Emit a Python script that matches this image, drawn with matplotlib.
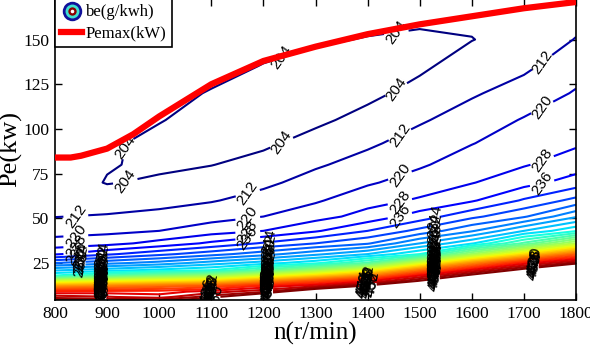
import numpy as np
import matplotlib
matplotlib.use("Agg")
import matplotlib.pyplot as plt
from matplotlib.lines import Line2D
from matplotlib.legend_handler import HandlerTuple

plt.rcParams['font.family'] = ['Liberation Serif', 'DejaVu Serif']

# engine speed columns (r/min) and power rows (kW) of the be map
speed = [800, 900, 1000, 1100, 1200, 1300, 1400, 1500, 1600, 1700, 1800]
power = [4, 6, 9, 12, 15, 18, 21, 25, 30, 36, 43, 51, 60, 70, 80, 92, 105, 120, 135, 150, 161, 172]

# be (g/kWh), one list per speed, rows follow `power`
be_800 = [462, 448, 431, 396, 355, 300, 283, 260, 235, 223.3, 216.9, 211.8, 209.7, 208.2, 207.7, 207.8, 208, 208.5, 209, 209.5, 210, 210.5]
be_900 = [460, 445, 432, 402.4, 364, 316, 288.6, 265.7, 242.5, 225.3, 218, 212.7, 208, 203.6, 204.5, 205.5, 206.5, 207, 207.5, 208, 208.5, 209]
be_1000 = [458, 440, 432, 408.8, 370.4, 328.4, 294.3, 271.4, 249.7, 230.7, 220, 214.2, 209.4, 205.1, 202.7, 201.4, 204.5, 206, 207, 207.5, 208, 208.5]
be_1100 = [470, 457, 439.6, 415.2, 376.8, 338.4, 300, 280, 256.8, 237.6, 224.3, 217, 211.4, 207.5, 203.8, 201.2, 200.5, 203.6, 206, 207, 207.5, 208]
be_1200 = [510, 481, 450.4, 431.2, 396, 357.6, 319.2, 288.2, 264.7, 245, 228, 220, 215, 210.3, 206.5, 202.7, 199.6, 200, 203.75, 206, 207, 207.5]
be_1300 = [560, 527, 477, 444, 415, 377, 341, 298, 274, 252, 235, 225, 219, 215, 211, 206.7, 202.5, 198.5, 201.4, 205, 206, 207]
be_1400 = [600, 560, 521, 465, 433, 399, 364, 318, 284, 259, 244, 231, 225, 219, 215, 210.7, 206.4, 202.2, 199.5, 203.6, 206, 207]
be_1500 = [640, 607, 558, 509, 461, 436, 405, 358, 300, 276, 254.5, 239.7, 229, 223.5, 219, 215.2, 211.1, 206.4, 202.7, 202.3, 205.5, 206.5]
be_1600 = [680, 648, 603, 557, 511, 465, 438, 398, 341, 291, 267, 250, 235, 227.6, 224, 219.7, 215.5, 211.1, 207.5, 203.8, 205.2, 206.5]
be_1700 = [720, 690, 645, 601, 556, 512, 467, 432, 376, 318, 284, 259, 245, 233, 227.4, 224.1, 220.6, 215.2, 210.5, 207, 206.4, 206.5]
be_1800 = [760, 733, 690, 646, 600, 555, 510, 456, 410, 349, 299, 275, 254.5, 239.7, 231.9, 226.9, 224, 220.7, 216.6, 212.3, 210, 207.8]

# full load curve
pemax_speed = [800, 830, 850, 900, 950, 1000, 1100, 1200, 1300, 1400, 1500, 1600, 1700, 1800]
pemax_power = [84, 84, 85, 89, 97, 107, 125, 138, 146, 153, 158.5, 163, 167.5, 171]

levels = np.arange(204, 461, 8)
top_levels = levels[levels <= 236]
low_levels = levels[levels > 236]


def crossings(segs, x0):
    # points where a contour path passes the speed x0
    pts = []
    for seg in segs:
        xs, ys = seg[:, 0], seg[:, 1]
        for k in range(len(xs) - 1):
            if xs[k] != xs[k + 1] and (xs[k] - x0) * (xs[k + 1] - x0) <= 0:
                t = (x0 - xs[k]) / (xs[k + 1] - xs[k])
                pts.append((x0, ys[k] + t * (ys[k + 1] - ys[k])))
    return pts


def label_speeds(lev):
    if lev == 204:
        return [935, 1235, 1455]
    if lev <= 236:
        return [840, 1170, 1462, 1735]
    if lev <= 268:
        return [850, 890, 1210, 1530]
    if lev >= 420:
        return [890, 1100, 1210, 1400, 1530, 1720]
    return [890, 1210, 1530]


fig = plt.figure(figsize=(5.9, 3.53), dpi=100)
ax = fig.add_axes([0.0932, 0.150, 0.8831, 0.854])

be = np.column_stack([be_800, be_900, be_1000, be_1100, be_1200, be_1300,
                      be_1400, be_1500, be_1600, be_1700, be_1800])

for group, spacing, rot in [(top_levels, 1, 55), (low_levels, -7, 78)]:
    cs = ax.contour(speed, power, be, levels=group, cmap='jet', vmin=204, vmax=460,
                    linewidths=1.5)
    spots = []
    for i, lev in enumerate(cs.levels):
        for x0 in label_speeds(lev):
            spots += crossings(cs.allsegs[i], x0)
    txt = ax.clabel(cs, fontsize=11, inline=True, inline_spacing=spacing,
                    fmt='%d', colors='k', manual=spots)
    for t in txt:
        t.set_fontfamily('Liberation Sans')
        t.set_rotation(rot)

ax.plot(pemax_speed, pemax_power, color='red', lw=4.5, solid_capstyle='butt', zorder=5)

ax.set_xlim(800, 1800)
ax.set_ylim(4.3, 172.9)
ax.set_xticks(range(800, 1801, 100))
ax.set_yticks([25, 50, 75, 100, 125, 150])
ax.tick_params(direction='in', length=5, width=1, top=True, right=True,
               labelsize=12.5, pad=4)
for s in ax.spines.values():
    s.set_linewidth(1.2)
ax.set_xlabel('n(r/min)', fontsize=18, labelpad=0)
ax.set_ylabel('Pe(kw)', fontsize=19)
ax.yaxis.set_label_coords(-0.063, 0.5)

# legend: ring marker for the map, red line for full load
rings = (Line2D([], [], ls='none', marker='o', ms=14, mfc='#10109a', mec='none'),
         Line2D([], [], ls='none', marker='o', ms=10, mfc='#40e0d0', mec='none'),
         Line2D([], [], ls='none', marker='o', ms=6, mfc='#8b0000', mec='none'),
         Line2D([], [], ls='none', marker='o', ms=2.6, mfc='white', mec='none'))
red = Line2D([], [], color='red', lw=4.5)
leg = ax.legend([rings, red], ['be(g/kwh)', 'Pemax(kW)'],
                handler_map={tuple: HandlerTuple(ndivide=1, pad=0)},
                loc='upper left', borderaxespad=0, fancybox=False,
                edgecolor='k', framealpha=1, fontsize=12,
                handlelength=1.3, handletextpad=0.2, labelspacing=0.3,
                borderpad=0.35)
leg.get_frame().set_linewidth(1.2)
leg.set_zorder(10)

fig.savefig('out.png', dpi=100)
